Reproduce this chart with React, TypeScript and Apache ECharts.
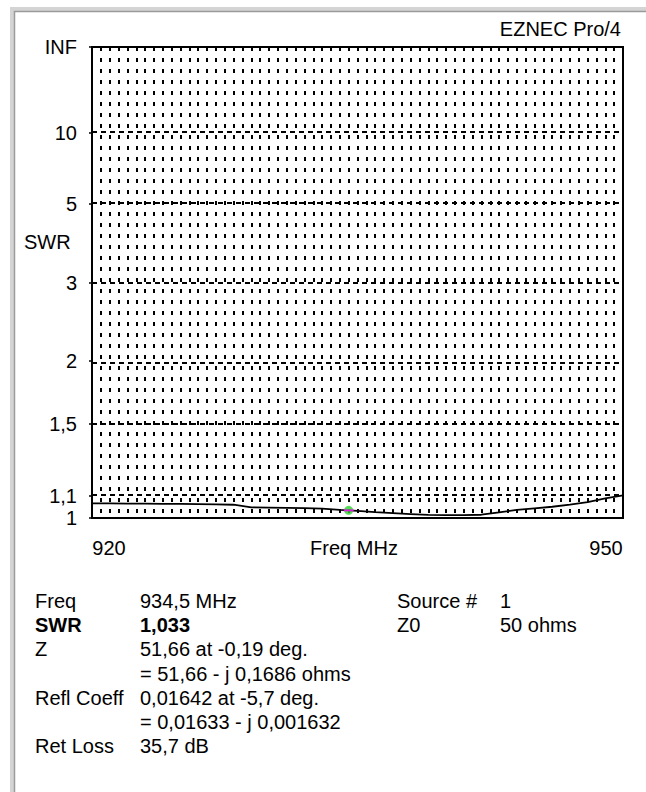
import React, { useEffect, useRef } from "react";
import * as echarts from "echarts";

// ---- data ----
const freqMHz = [920, 921, 922, 923, 924, 925, 926, 927, 928, 929, 930, 931, 932, 933, 934, 935, 936, 937, 938, 939, 940, 941, 942, 943, 944, 945, 946, 947, 948, 949, 950];
const swrValues = [1.064, 1.064, 1.063, 1.063, 1.062, 1.062, 1.061, 1.06, 1.058, 1.046, 1.045, 1.044, 1.043, 1.041, 1.035, 1.031, 1.025, 1.021, 1.017, 1.013, 1.012, 1.012, 1.014, 1.024, 1.035, 1.042, 1.049, 1.058, 1.07, 1.087, 1.101];
const markerFreq = 934.5;
const markerSwr = 1.033;
const yTickSwr = [1, 1.1, 1.5, 2, 3, 5, 10];
const yTickLabels = ["1", "1,1", "1,5", "2", "3", "5", "10"];
const infLabel = "INF";
const xLabelValues = [920, 950];
const xAxisName = "Freq MHz";
const yAxisName = "SWR";
const titleText = "EZNEC Pro/4";

const infoLabels = ["Freq", "SWR", "Z", "", "Refl Coeff", "", "Ret Loss"];
const infoValues = ["934,5 MHz", "1,033", "51,66 at -0,19 deg.", "= 51,66 - j 0,1686 ohms", "0,01642 at -5,7 deg.", "= 0,01633 - j 0,001632", "35,7 dB"];
const infoBold = [false, true, false, false, false, false, false];
const sideLabels = ["Source #", "Z0"];
const sideValues = ["1", "50 ohms"];

const rho = (s: number) => (s - 1) / (s + 1);

export default function App() {
  const ref = useRef<HTMLDivElement>(null);
  useEffect(() => {
    if (!ref.current) return;
    const chart = echarts.init(ref.current, undefined, { renderer: "svg" });
    const font = "'Liberation Sans', Arial, sans-serif";
    const fs = 20;

    const tickRho = yTickSwr.map(rho).concat([1]);
    const tickText = yTickLabels.concat([infLabel]);

    const rowY0 = 601;
    const rowStep = 24.2;
    const graphic: any[] = [
      { type: "rect", silent: true, shape: { x: 12, y: 9, width: 700, height: 900 }, style: { fill: "none", stroke: "#d4d4d4", lineWidth: 4 } },
      { type: "rect", silent: true, shape: { x: 14.5, y: 11.5, width: 700, height: 900 }, style: { fill: "none", stroke: "#9a9a9a", lineWidth: 1.5 } },
      { type: "text", x: 621, y: 29, style: { text: titleText, fontSize: fs, fontFamily: font, fill: "#000", align: "right", verticalAlign: "middle" } },
      { type: "text", x: 24, y: 242, style: { text: yAxisName, fontSize: fs, fontFamily: font, fill: "#000", align: "left", verticalAlign: "middle" } },
      { type: "text", x: 354, y: 548, style: { text: xAxisName, fontSize: fs, fontFamily: font, fill: "#000", align: "center", verticalAlign: "middle" } },
    ];
    infoLabels.forEach((t, i) => {
      if (t) graphic.push({ type: "text", x: 35, y: rowY0 + i * rowStep, style: { text: t, fontSize: fs, fontFamily: font, fontWeight: infoBold[i] ? "bold" : "normal", fill: "#000", verticalAlign: "middle" } });
      graphic.push({ type: "text", x: 140, y: rowY0 + i * rowStep, style: { text: infoValues[i], fontSize: fs, fontFamily: font, fontWeight: infoBold[i] ? "bold" : "normal", fill: "#000", verticalAlign: "middle" } });
    });
    sideLabels.forEach((t, i) => {
      graphic.push({ type: "text", x: 397, y: rowY0 + i * rowStep, style: { text: t, fontSize: fs, fontFamily: font, fill: "#000", verticalAlign: "middle" } });
      graphic.push({ type: "text", x: 500, y: rowY0 + i * rowStep, style: { text: sideValues[i], fontSize: fs, fontFamily: font, fill: "#000", verticalAlign: "middle" } });
    });

    chart.setOption({
      animation: false,
      backgroundColor: "#fff",
      textStyle: { fontFamily: font },
      grid: { left: 92, top: 47, right: 23, bottom: 274, show: true, borderColor: "#000", borderWidth: 2, containLabel: false, outerBoundsMode: "none" },
      xAxis: {
        type: "value",
        min: 920,
        max: 950,
        interval: 0.5,
        axisLine: { show: false },
        axisTick: { show: false },
        splitLine: { show: true, lineStyle: { color: "#000", width: 2, type: [4, 7] } },
        axisLabel: {
          customValues: xLabelValues,
          margin: 20,
          fontSize: fs,
          color: "#000",
          fontFamily: font,
          formatter: (v: number) => (v === xLabelValues[0] ? "{l|" + v + "}" : "{r|" + v + "}"),
          rich: {
            l: { fontSize: fs, fontFamily: font, color: "#000", padding: [0, 0, 0, 34] },
            r: { fontSize: fs, fontFamily: font, color: "#000", padding: [0, 34, 0, 0] },
          },
        },
      },
      yAxis: {
        type: "value",
        min: 0,
        max: 1,
        axisLine: { show: false },
        splitLine: { show: false },
        axisTick: { show: true, customValues: tickRho, length: 3, lineStyle: { color: "#000", width: 1.5 } },
        axisLabel: {
          customValues: tickRho,
          margin: 15,
          fontSize: fs,
          color: "#000",
          fontFamily: font,
          formatter: (v: number) => {
            let best = 0;
            tickRho.forEach((r, i) => { if (Math.abs(r - v) < Math.abs(tickRho[best] - v)) best = i; });
            return tickText[best];
          },
        },
      },
      series: [
        {
          type: "line",
          data: freqMHz.map((f, i) => [f, rho(swrValues[i])]),
          symbol: "none",
          lineStyle: { color: "#000", width: 1.8 },
          z: 3,
          markLine: {
            silent: true,
            symbol: "none",
            label: { show: false },
            lineStyle: { color: "#000", width: 1.8, type: [5, 4] },
            data: yTickSwr.slice(1).map((s) => ({ yAxis: rho(s) })),
          },
        },
        {
          type: "scatter",
          data: [[markerFreq, rho(markerSwr)]],
          symbol: "circle",
          symbolSize: 9,
          itemStyle: { color: "#2ed12e" },
          z: 4,
        },
        {
          type: "scatter",
          data: [[markerFreq, rho(markerSwr)]],
          symbol: "rect",
          symbolSize: [10, 2],
          itemStyle: { color: "#ff00ff" },
          z: 5,
        },
      ],
      graphic,
    });
    return () => chart.dispose();
  }, []);
  return <div ref={ref} style={{ position: "absolute", left: 0, top: 0, width: 646, height: 792, background: "#fff" }} />;
}
